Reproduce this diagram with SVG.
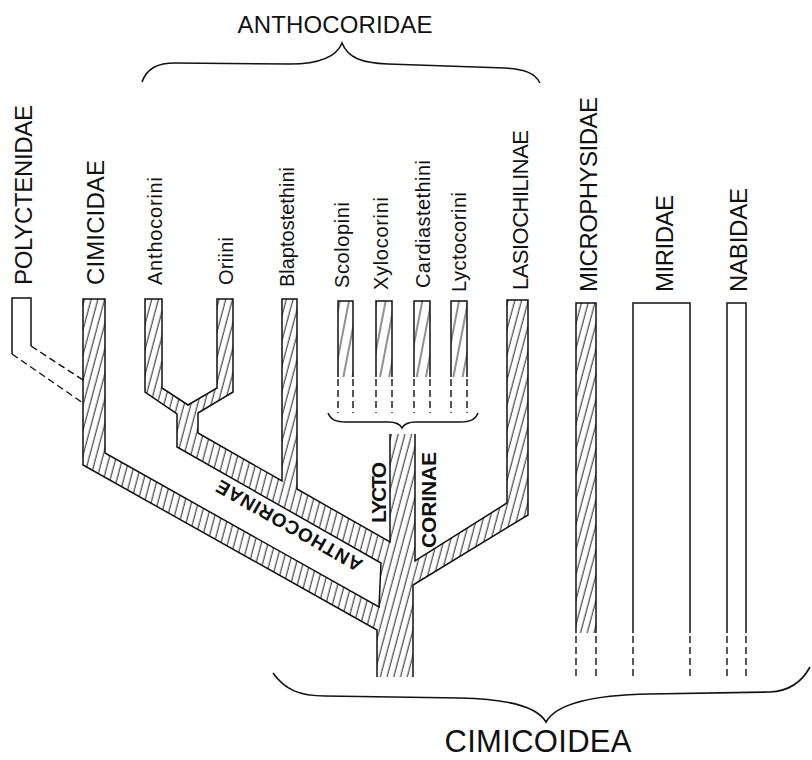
<svg xmlns="http://www.w3.org/2000/svg" width="812" height="760" viewBox="0 0 812 760">
<defs>
<pattern id="hatch" patternUnits="userSpaceOnUse" width="6.5" height="12" patternTransform="rotate(15)">
<line x1="3" y1="0" x2="3" y2="12" stroke="#222" stroke-width="1"/>
</pattern>
<pattern id="hatch2" patternUnits="userSpaceOnUse" width="9" height="12" patternTransform="rotate(11)">
<line x1="4" y1="0" x2="4" y2="12" stroke="#222" stroke-width="1"/>
</pattern>
</defs>
<style>
.ol{fill:none;stroke:#111;stroke-width:1.5;stroke-linejoin:miter}
.dash{fill:none;stroke:#111;stroke-width:1.4;stroke-dasharray:7 4}
.br{fill:none;stroke:#111;stroke-width:1.6}
.t{font-family:"Liberation Sans",Arial,sans-serif;fill:#111}
.cap{font-size:24px}
.sm{font-size:20px}
.bd{font-size:21px;font-weight:bold}
</style>
<rect width="812" height="760" fill="#fff"/>

<g id="connectors">
<g id="tree-body">
<path fill="url(#hatch)" stroke="none" d="M377,677 L377,630 L83,465 L83,299 L105,299 L105,453 L379,607 L381,563 L177,447 L177,414 L145,392 L145,299 L162,299 L162,388 L188,405 L217,388 L217,299 L233,299 L233,392 L198,413 L198,433 L282,481 L282,299 L297,299 L297,489 L390,542 L390,434 L415,434 L415,561 L507,503 L507,300 L528,300 L528,515 L413,585 L413,677 Z"/>
<path class="ol" d="M377,677 L377,630 L83,465 L83,299 L105,299 L105,453 L379,607 L381,563 L177,447 L177,414 L145,392 L145,299 L162,299 L162,388 L188,405 L217,388 L217,299 L233,299 L233,392 L198,413 L198,433 L282,481 L282,299 L297,299 L297,489 L390,542 L390,434 M415,434 L415,561 L507,503 L507,300 L528,300 L528,515 L413,585 L413,677"/>
</g>
<g id="polyctenidae-link">
<path class="dash" d="M31,346 L83,380 M12,354 L83,403"/>
</g>
<g id="small-brace">
<path class="br" d="M328,413 C331,420 336,422 346,422 L388,422 C396,422 400,424 402,428 C404,424 408,422 416,422 L460,422 C470,422 475,420 478,413"/>
</g>
</g>

<g id="node-anthocoridae">
<path class="br" d="M142,82 C147,68 158,63 175,63 L290,64 C318,64 336,58 342,43 C348,58 362,63 388,64 L505,68 C524,69 535,73 540,83"/>
<text class="t cap" x="335" y="33" text-anchor="middle" textLength="195">ANTHOCORIDAE</text>
</g>

<g id="node-polyctenidae">
<path class="ol" d="M12,354 L12,298 L31,298 L31,346"/>
<text class="t cap" transform="translate(32,285) rotate(-90)" textLength="180">POLYCTENIDAE</text>
</g>

<g id="node-cimicidae">
<text class="t cap" transform="translate(104,285) rotate(-90)" textLength="125">CIMICIDAE</text>
</g>

<g id="node-anthocorini">
<text class="t sm" transform="translate(162,285) rotate(-90)" textLength="108">Anthocorini</text>
</g>

<g id="node-oriini">
<text class="t sm" transform="translate(233,285) rotate(-90)" textLength="48">Oriini</text>
</g>

<g id="node-blaptostethini">
<text class="t sm" transform="translate(294,287) rotate(-90)" textLength="120">Blaptostethini</text>
</g>

<g id="node-scolopini">
<rect x="338" y="301" width="15" height="76" fill="url(#hatch2)"/>
<path class="ol" d="M338,377 L338,301 L353,301 L353,377"/>
<path class="dash" d="M338,379 L338,413 M353,379 L353,413"/>
<text class="t sm" transform="translate(349,288) rotate(-90)" textLength="86">Scolopini</text>
</g>

<g id="node-xylocorini">
<rect x="376" y="301" width="16" height="76" fill="url(#hatch2)"/>
<path class="ol" d="M376,377 L376,301 L392,301 L392,377"/>
<path class="dash" d="M376,379 L376,413 M392,379 L392,413"/>
<text class="t sm" transform="translate(388,290) rotate(-90)" textLength="93">Xylocorini</text>
</g>

<g id="node-cardiastethini">
<rect x="414" y="301" width="16" height="76" fill="url(#hatch2)"/>
<path class="ol" d="M414,377 L414,301 L430,301 L430,377"/>
<path class="dash" d="M414,379 L414,413 M430,379 L430,413"/>
<text class="t sm" transform="translate(430,288) rotate(-90)" textLength="128">Cardiastethini</text>
</g>

<g id="node-lyctocorini">
<rect x="451" y="301" width="16" height="76" fill="url(#hatch2)"/>
<path class="ol" d="M451,377 L451,301 L467,301 L467,377"/>
<path class="dash" d="M451,379 L451,413 M467,379 L467,413"/>
<text class="t sm" transform="translate(466,292) rotate(-90)" textLength="100">Lyctocorini</text>
</g>

<g id="node-lasiochilinae">
<text class="t" style="font-size:22px" transform="translate(528,290) rotate(-90)" textLength="160">LASIOCHILINAE</text>
</g>

<g id="node-lyctocorinae">
<text class="t bd" transform="translate(386,523) rotate(-90)" textLength="61">LYCTO</text>
<text class="t bd" transform="translate(436,548) rotate(-90)" textLength="96">CORINAE</text>
</g>

<g id="node-anthocorinae">
<text class="t bd" style="font-size:19px" transform="translate(364,561) rotate(209.7)" textLength="165">ANTHOCORINAE</text>
</g>

<g id="node-microphysidae">
<rect x="576" y="303" width="20" height="330" fill="url(#hatch)"/>
<path class="ol" d="M576,633 L576,303 L596,303 L596,633"/>
<path class="dash" d="M576,636 L576,680 M596,636 L596,680"/>
<text class="t cap" transform="translate(597,292) rotate(-90)" textLength="195">MICROPHYSIDAE</text>
</g>

<g id="node-miridae">
<path class="ol" d="M633,633 L633,303 L690,303 L690,633"/>
<path class="dash" d="M633,636 L633,680 M690,636 L690,680"/>
<text class="t cap" transform="translate(673,292) rotate(-90)" textLength="97">MIRIDAE</text>
</g>

<g id="node-nabidae">
<path class="ol" d="M727,633 L727,303 L746,303 L746,633"/>
<path class="dash" d="M727,636 L727,680 M746,636 L746,680"/>
<text class="t cap" transform="translate(747,292) rotate(-90)" textLength="104">NABIDAE</text>
</g>

<g id="node-cimicoidea">
<path class="br" d="M273,673 C285,690 300,696 325,696 L460,698 C510,699 538,708 546,722 C556,704 590,695 650,694 L770,692 C790,691 803,680 810,667"/>
<text class="t" style="font-size:31px" x="538" y="752" text-anchor="middle" textLength="187">CIMICOIDEA</text>
</g>
</svg>
